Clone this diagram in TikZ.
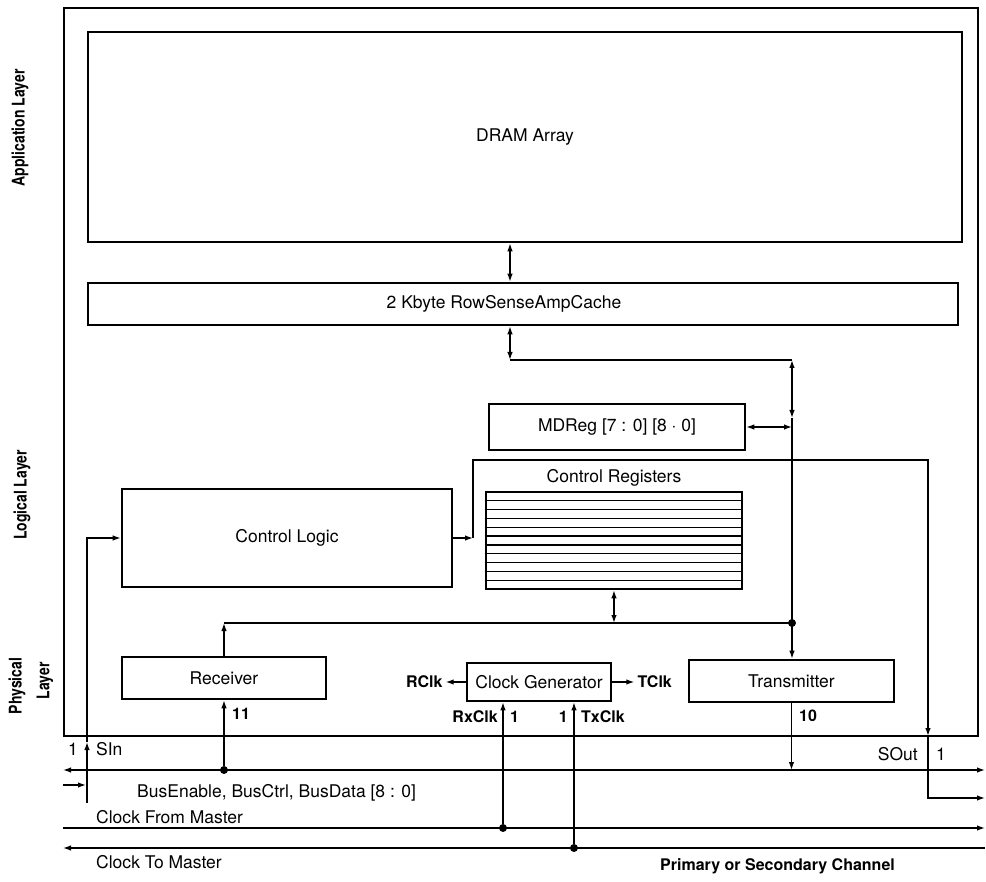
\documentclass[tikz,border=0pt]{standalone}
\usepackage{fontspec}
\setmainfont{TeX Gyre Heros}
\newfontfamily\condfont{TeX Gyre Heros}[FakeStretch=0.8]
\usetikzlibrary{arrows.meta}
\begin{document}
\begin{tikzpicture}[x=1pt,y=-1pt,
  box/.style={draw, line width=2.6pt, inner sep=0pt},
  conn/.style={line width=1.3pt},
  arr/.style={conn, -{Latex[length=8pt,width=5.5pt]}},
  darr/.style={conn, {Latex[length=8pt,width=5.5pt]}-{Latex[length=8pt,width=5.5pt]}},
  lbl/.style={font=\fontsize{17.5}{20}\selectfont, inner sep=0pt},
  blbl/.style={font=\fontsize{16}{19}\selectfont\bfseries, inner sep=0pt},
  layer/.style={font=\condfont\bfseries\fontsize{17.5}{20}\selectfont, rotate=90, inner sep=0pt},
  dot/.style={circle, fill, inner sep=0pt, minimum size=8pt}]
\useasboundingbox (0,0) rectangle (986,882);

% chip frame
\node[draw, line width=2.4pt, minimum width=914pt, minimum height=728pt] (chip) at (521,372) {};

% layer labels
\node[layer] (lapp) at (20,128) {Application Layer};
\node[layer] (llog) at (22,495) {Logical Layer};
\node[layer] (lphy1) at (17,686) {Physical};
\node[layer] (lphy2) at (45,681) {Layer};

% boxes
\node[box, minimum width=874pt, minimum height=210pt, lbl] (dram) at (525,137) {DRAM Array};
\node[box, minimum width=870pt, minimum height=42pt] (cache) at (523,304) {};
\node[lbl] (cachetxt) at (504,304) {2 Kbyte RowSenseAmpCache};
\node[box, minimum width=256pt, minimum height=46pt, lbl] (mdreg) at (617,427) {MDReg [7 : 0] [8 $\cdot$ 0]};
\node[box, minimum width=330pt, minimum height=98pt, lbl] (clogic) at (287,538) {Control Logic};
\node[box, minimum width=256pt, minimum height=97pt] (cregs) at (614,540.5) {};
\node[lbl] (cregtxt) at (614,478) {Control Registers};
\foreach \i in {1,...,10} {
  \pgfmathsetmacro\yy{492+\i*97/11}
  \draw[line width=1.3pt] (cregs.west |- 0,\yy) -- (cregs.east |- 0,\yy);
}
\node[box, minimum width=204pt, minimum height=42pt, lbl] (recv) at (224,678) {Receiver};
\node[box, minimum width=144pt, minimum height=38pt, lbl] (clkgen) at (539,682) {Clock Generator};
\node[box, minimum width=205pt, minimum height=42pt, lbl] (xmit) at (791.5,681) {Transmitter};

% internal data path
\coordinate (cx) at (510,360);
\coordinate (bc) at (792,360);
\coordinate (bm) at (792,418);
\coordinate (bj) at (792,623);
\coordinate (rj) at (224,623);
\draw[darr] (dram.south -| cx) -- (cache.north -| cx);
\draw[darr] (cache.south -| cx) -- (cx);
\draw[conn] (cx) -- (bc);
\draw[darr] (bc) -- (bm);
\draw[conn] (bm) -- (bj);
\draw[arr] (bj) -- (bj |- xmit.north);
\node[dot] (dj) at (bj) {};
\draw[darr] (mdreg.east) -- (mdreg.east -| bc);
\draw[darr] (cregs.south) -- (cregs.south |- bj);
\draw[arr] (recv.north) -- (rj);
\draw[conn] (rj) -- (bj);

% control logic to SOut
\coordinate (cj) at (473,538);
\coordinate (so) at (928,736);
\draw[arr] (clogic.east) -- (cj);
\draw[arr] (cj) -- (473,460) -- (928,460) -- (so);
\draw[arr] (so) -- (928,798) -- (985,798);
\node[lbl, anchor=east] (sout) at (918,754) {SOut};
\node[lbl, anchor=west] (soutn) at (936,754) {1};

% SIn
\coordinate (sinb) at (87,803);
\coordinate (sinm) at (87,742);
\draw[arr] (sinb) -- (sinm);
\draw[arr] (sinm) -- (sinm |- clogic.west) -- (clogic.west);
\node[lbl, anchor=east] (sinn) at (78,749) {1};
\node[lbl, anchor=west] (sin) at (96,749) {SIn};
\coordinate (inl) at (63,785);
\draw[arr] (inl) -- (86,785);

% bus lines
\coordinate (b1l) at (63,770);
\coordinate (b1r) at (985,770);
\draw[darr] (b1l) -- (b1r);
\node[dot] (d1) at (224,770) {};
\draw[arr] (d1) -- (recv.south);
\node[blbl, anchor=west] (n11) at (232,714) {11};
\draw[arr] (xmit.south) -- (xmit.south |- b1l);
\node[blbl, anchor=west] (n10) at (799,716) {10};
\node[lbl, anchor=west] (bustxt) at (137,793) {BusEnable, BusCtrl, BusData [8 : 0]};

\coordinate (cfl) at (63,828);
\coordinate (cfr) at (985,828);
\draw[arr] (cfl) -- (cfr);
\node[dot] (d2) at (503,828) {};
\draw[arr] (d2) -- (d2 |- clkgen.south);
\node[lbl, anchor=west] (cftxt) at (96,817) {Clock From Master};

\coordinate (ctl) at (63,848);
\coordinate (ctr) at (985,848);
\draw[arr] (ctr) -- (ctl);
\node[dot] (d3) at (574,848) {};
\draw[arr] (d3) -- (d3 |- clkgen.south);
\node[lbl, anchor=west] (cttxt) at (96,862) {Clock To Master};

\node[blbl, anchor=west] (chan) at (660,866) {Primary or Secondary Channel};

% clock labels
\node[blbl, anchor=east] (rxclk) at (498,717) {RxClk};
\node[blbl, anchor=west] (rx1) at (510,717) {1};
\node[blbl, anchor=east] (tx1) at (568,717) {1};
\node[blbl, anchor=west] (txclk) at (581,717) {TxClk};
\draw[arr] (clkgen.west) -- ++(-20,0) coordinate (rck);
\node[blbl, anchor=east] (rclk) at ([xshift=-3pt]rck) {RClk};
\draw[arr] (clkgen.east) -- ++(22,0) coordinate (tck);
\node[blbl, anchor=west] (tclk) at ([xshift=3pt]tck) {TClk};
\end{tikzpicture}
\end{document}
